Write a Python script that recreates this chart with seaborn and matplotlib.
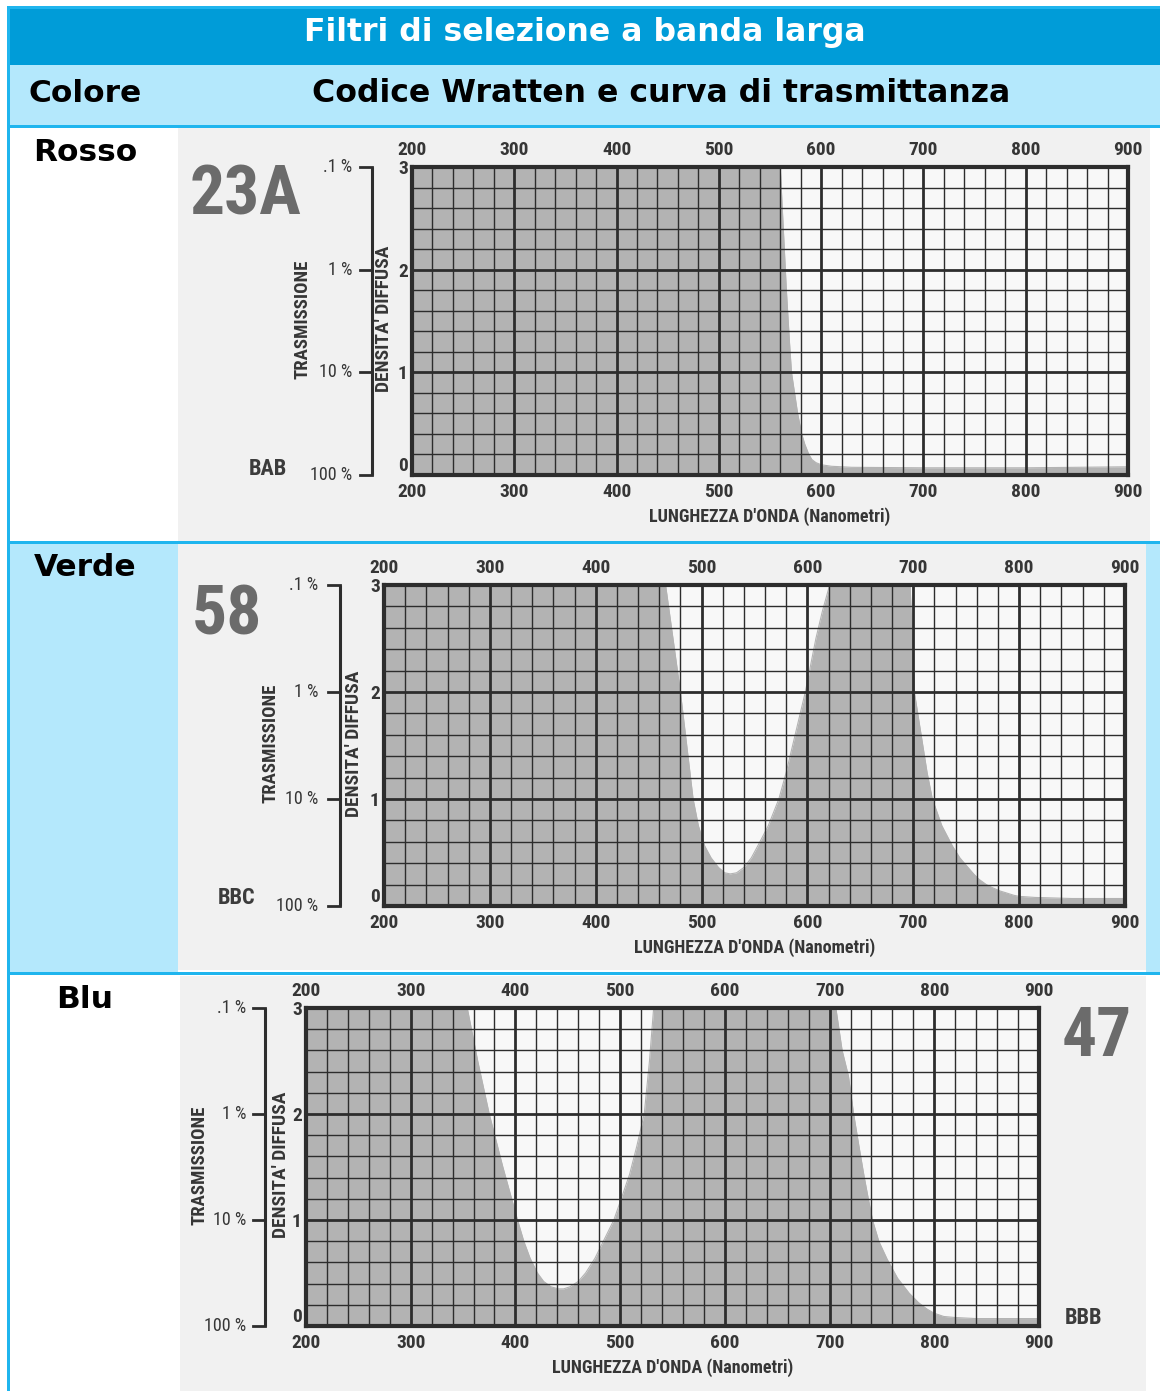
import numpy as np
import pandas as pd
import matplotlib
matplotlib.use("Agg")
import matplotlib.pyplot as plt
import seaborn as sns
from matplotlib import font_manager, transforms
from matplotlib.patches import Rectangle

# ---------------- data ----------------
wavelength_ticks = [200, 300, 400, 500, 600, 700, 800, 900]
density_ticks = [0, 1, 2, 3]
transmission_labels = ["100 %", "10 %", "1 %", ".1 %"]

colour_names = ["Rosso", "Verde", "Blu"]
wratten_codes = ["23A", "58", "47"]
code_letters = ["BAB", "BBC", "BBB"]

# 23A (rosso): diffuse density vs wavelength (nm)
wl_23A = [200, 400, 555, 560, 563, 566, 569, 571, 574, 577, 581, 584, 588, 591, 595, 600, 610, 630,
          700, 800, 900]
d_23A = [3.4, 3.4, 3.4, 3.0, 2.4, 1.8, 1.3, 1.0, 0.8, 0.6, 0.4, 0.3, 0.2, 0.15, 0.12, 0.1, 0.085, 0.075,
         0.07, 0.07, 0.08]

# 58 (verde)
wl_58 = [200, 460, 466, 473, 480, 486, 492, 497, 503, 509, 516, 522, 527, 533, 540, 547, 553, 563,
         573, 580, 586, 592, 598, 603, 608, 614, 621, 628, 690, 697, 699, 701, 705, 709, 713, 718,
         727, 737, 744, 750, 757, 762, 769, 775, 782, 787, 795, 800, 815, 850, 900]
d_58 = [3.4, 3.4, 3.0, 2.5, 2.0, 1.5, 1.0, 0.75, 0.56, 0.45, 0.36, 0.31, 0.30, 0.31, 0.36, 0.45, 0.56, 0.75,
        1.0, 1.25, 1.5, 1.75, 2.0, 2.25, 2.5, 2.75, 3.0, 3.4, 3.4, 3.0, 2.5, 2.0, 1.75, 1.5, 1.25, 1.0,
        0.75, 0.56, 0.45, 0.38, 0.30, 0.25, 0.20, 0.17, 0.14, 0.125, 0.10, 0.09, 0.08, 0.07, 0.07]

# 47 (blu)
wl_47 = [200, 345, 354, 364, 375, 388, 402, 408, 414, 421, 427, 434, 441, 446, 452, 460, 467, 476,
         484, 494, 501, 509, 516, 523, 528, 532, 540, 698, 706, 712, 718, 723, 728, 733, 737, 741,
         747, 755, 765, 776, 785, 793, 800, 809, 820, 840, 900]
d_47 = [3.4, 3.4, 3.0, 2.5, 2.0, 1.5, 1.0, 0.8, 0.64, 0.5, 0.42, 0.37, 0.35, 0.35, 0.37, 0.42, 0.5, 0.64,
        0.8, 1.0, 1.2, 1.43, 1.7, 2.0, 2.5, 3.0, 3.4, 3.4, 3.0, 2.6, 2.36, 2.0, 1.7, 1.41, 1.2, 1.0,
        0.8, 0.63, 0.45, 0.31, 0.22, 0.16, 0.12, 0.09, 0.08, 0.07, 0.07]

title_text = "Filtri di selezione a banda larga"
head_left = "Colore"
head_right = "Codice Wratten e curva di trasmittanza"
x_label = "LUNGHEZZA D'ONDA (Nanometri)"
y_label_t = "TRASMISSIONE"
y_label_d = "DENSITA' DIFFUSA"

# ---------------- fonts ----------------
names = {f.name for f in font_manager.fontManager.ttflist}
cond_family, cond_stretch = "DejaVu Sans", "normal"
for cand in ["Roboto Condensed", "Liberation Sans Narrow", "Open Sans Condensed", "Arial Narrow"]:
    if cand in names:
        cond_family = cand
        break
else:
    if any(f.name == "DejaVu Sans" and f.stretch == "condensed" for f in font_manager.fontManager.ttflist):
        cond_stretch = "condensed"

plt.rcParams["font.family"] = [cond_family, "DejaVu Sans"]
plt.rcParams["font.weight"] = "bold"
plt.rcParams["font.stretch"] = cond_stretch

# ---------------- colours ----------------
CYAN = "#1FB5EE"
DARK_BLUE = "#009CD8"
LIGHT_BLUE = "#B4E8FC"
PAGE_GREY = "#F1F1F1"
PLOT_BG = "#F8F8F8"
FILL = "#B3B3B3"
GRID = "#2D2D2D"
TXT = "#363636"
CODE_GREY = "#6B6B6B"

W, H = 1160, 1391
fig = plt.figure(figsize=(W / 100, H / 100), dpi=100, facecolor="white")

# background / table axes in pixel coordinates
bg = fig.add_axes([0, 0, 1, 1])
bg.set_xlim(0, W)
bg.set_ylim(H, 0)
bg.axis("off")


def rect(x0, y0, x1, y1, color):
    bg.add_patch(Rectangle((x0, y0), x1 - x0, y1 - y0, color=color, lw=0, zorder=0))


rect(7, 6, W, 9, CYAN)
rect(7, 6, 10, H, CYAN)
rect(10, 9, W, 65, DARK_BLUE)
rect(10, 65, W, 125, LIGHT_BLUE)
rect(10, 125, W, 128, CYAN)
rect(178, 128, 1150, 541, PAGE_GREY)
rect(10, 541, W, 544, CYAN)
rect(10, 544, 178, 972, LIGHT_BLUE)
rect(178, 544, 1146, 970, PAGE_GREY)
rect(1146, 544, W, 972, LIGHT_BLUE)
rect(10, 972, W, 975, CYAN)
rect(180, 976, 1146, H, PAGE_GREY)

hdr = dict(fontfamily="DejaVu Sans", fontstretch="normal", fontweight="bold", zorder=3)
bg.text(585, 41, title_text, color="white", ha="center", va="baseline", fontsize=22.7, **hdr)
bg.text(85, 102, head_left, color="black", ha="center", va="baseline", fontsize=22.5, **hdr)
bg.text(661, 102, head_right, color="black", ha="center", va="baseline", fontsize=22.7, **hdr)
for name, yb in zip(colour_names, [161, 576, 1008]):
    bg.text(85, yb, name, color="black", ha="center", va="baseline", fontsize=22.5, **hdr)

# ---------------- charts ----------------
charts = [
    dict(box=(412, 167, 1128, 475), wl=wl_23A, d=d_23A, code_xy=(245, 196), let_xy=(268, 469),
         off=dict(brk=-40, tlab=-60, ttl=-109, dtl=-28)),
    dict(box=(384, 585, 1125, 906), wl=wl_58, d=d_58, code_xy=(227, 616), let_xy=(237, 898),
         off=dict(brk=-44, tlab=-66, ttl=-113, dtl=-30)),
    dict(box=(306, 1008, 1039, 1326), wl=wl_47, d=d_47, code_xy=(1097, 1038), let_xy=(1084, 1318),
         off=dict(brk=-41, tlab=-60, ttl=-107, dtl=-25)),
]

for i, c in enumerate(charts):
    x0, y0, x1, y1 = c["box"]
    wpx = x1 - x0
    ax = fig.add_axes([x0 / W, 1 - y1 / H, wpx / W, (y1 - y0) / H])
    ax.set_facecolor(PLOT_BG)
    df = pd.DataFrame({"wl": c["wl"], "d": c["d"]})
    ax.fill_between(df["wl"], 0, df["d"], color=FILL, lw=0, zorder=1)
    sns.lineplot(data=df, x="wl", y="d", ax=ax, color=FILL, lw=0.8, zorder=1.1)
    ax.set_xlim(200, 900)
    ax.set_ylim(0, 3)
    ax.set_xticks(wavelength_ticks)
    ax.set_xticks(np.arange(200, 901, 20), minor=True)
    ax.set_yticks(density_ticks)
    ax.set_yticks(np.arange(0, 3.01, 0.2), minor=True)
    ax.set_axisbelow(False)
    ax.grid(which="major", color=GRID, lw=2.0)
    ax.grid(which="minor", color=GRID, lw=1.0)
    ax.tick_params(which="both", length=0)
    ax.tick_params(axis="x", labeltop=True, labelbottom=True, pad=5.5, labelsize=14, labelcolor=TXT)
    ax.tick_params(axis="y", pad=3, labelsize=14, labelcolor=TXT)
    ax.get_yticklabels()[0].set_va("bottom")
    for s in ax.spines.values():
        s.set_linewidth(3)
        s.set_color(GRID)
        s.set_zorder(3)
    ax.set_ylabel("")
    ax.set_xlabel(x_label, fontsize=13, fontweight="bold", color=TXT, labelpad=5)

    tr = transforms.blended_transform_factory(ax.transAxes, ax.transData)
    o = c["off"]
    fb = o["brk"] / wpx
    ax.plot([fb, fb], [0, 3], transform=tr, color=GRID, lw=2.2, clip_on=False, solid_capstyle="butt")
    for yv, lab in zip(density_ticks, transmission_labels):
        ax.plot([fb - 12 / wpx, fb], [yv, yv], transform=tr, color=GRID, lw=2.0, clip_on=False)
        ax.text(o["tlab"] / wpx, yv, lab, transform=tr, ha="right", va="center",
                fontsize=13, color=TXT, fontweight="normal")
    ax.text(o["ttl"] / wpx, 1.52, y_label_t, transform=tr, rotation=90, ha="center", va="center",
            fontsize=13.5, color=TXT)
    ax.text(o["dtl"] / wpx, 1.52, y_label_d, transform=tr, rotation=90, ha="center", va="center",
            fontsize=14, color=TXT)

    bg.text(*c["code_xy"], wratten_codes[i], ha="center", va="center", fontsize=50,
            color=CODE_GREY, zorder=3)
    bg.text(*c["let_xy"], code_letters[i], ha="center", va="center", fontsize=16,
            color="#3C3C3C", zorder=3)

fig.savefig("out.png", dpi=100, facecolor="white")
